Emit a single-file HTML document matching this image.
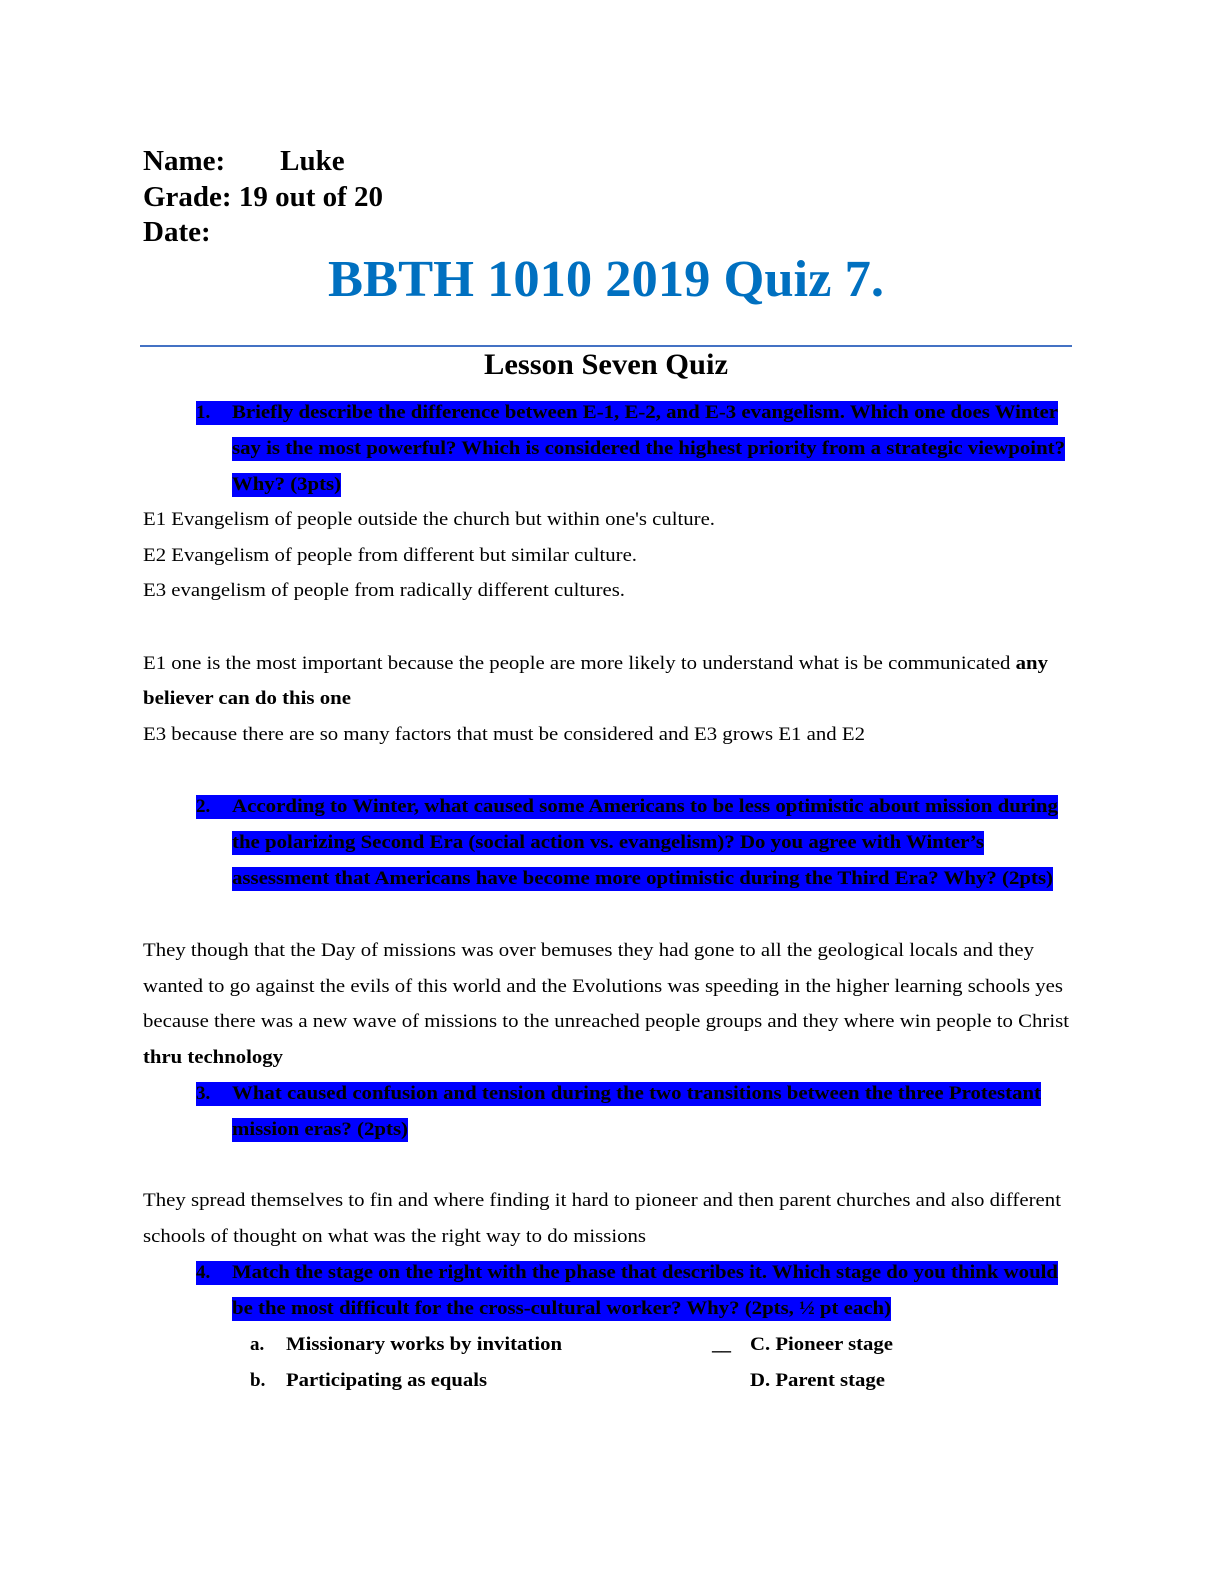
<!DOCTYPE html>
<html><head><meta charset="utf-8"><style>
html,body{margin:0;padding:0;overflow:hidden;width:1224px;height:1584px}
body{background:#fff;position:relative;font-family:"Liberation Serif",serif;color:#000}
.l{position:absolute;white-space:nowrap;line-height:24px;height:24px;font-size:19px}
.f span{display:inline-block;transform-origin:0 50%}
.hl{background:#0000ff}
.b{font-weight:bold}
.h{position:absolute;font-weight:bold;font-size:29px;line-height:36px;white-space:nowrap}
</style></head><body>
<div class="h" style="left:143px;top:143px">Name:<span style="display:inline-block;width:55px"></span>Luke</div>
<div class="h" style="left:143px;top:179px">Grade: 19 out of 20</div>
<div class="h" style="left:143px;top:214px">Date:</div>
<div class="l f b" style="left:328px;top:250px;width:556px;height:60px;line-height:60px;font-size:52px;color:#0070c0"><span>BBTH 1010 2019 Quiz 7.</span></div>
<div style="position:absolute;left:140px;top:345px;width:932px;height:2px;background:#4472c4"></div>
<div class="l f b" style="left:484px;top:347px;width:244px;height:36px;line-height:36px;font-size:30px"><span>Lesson Seven Quiz</span></div>

<div class="l b hl" style="left:196px;top:401px;width:862px"></div>
<div class="l b" style="left:196px;top:401px">1.</div>
<div class="l f b" style="left:232px;top:401px;width:826px"><span>Briefly describe the difference between E-1, E-2, and E-3 evangelism. Which one does Winter</span></div>
<div class="l f b hl" style="left:232px;top:437px;width:833px"><span>say is the most powerful? Which is considered the highest priority from a strategic viewpoint?</span></div>
<div class="l f b hl" style="left:232px;top:473px;width:109px"><span>Why? (3pts)</span></div>

<div class="l f" style="left:143px;top:508px;width:572px"><span>E1 Evangelism of people outside the church but within one's culture.</span></div>
<div class="l f" style="left:143px;top:544px;width:494px"><span>E2 Evangelism of people from different but similar culture.</span></div>
<div class="l f" style="left:143px;top:579px;width:482px"><span>E3 evangelism of people from radically different cultures.</span></div>
<div class="l f" style="left:143px;top:652px;width:905px"><span>E1 one is the most important because the people are more likely to understand what is be communicated <b>any</b></span></div>
<div class="l f b" style="left:143px;top:687px;width:208px"><span>believer can do this one</span></div>
<div class="l f" style="left:143px;top:723px;width:722px"><span>E3 because there are so many factors that must be considered and E3 grows E1 and E2</span></div>

<div class="l b hl" style="left:196px;top:795px;width:862px"></div>
<div class="l b" style="left:196px;top:795px">2.</div>
<div class="l f b" style="left:232px;top:795px;width:826px"><span>According to Winter, what caused some Americans to be less optimistic about mission during</span></div>
<div class="l f b hl" style="left:232px;top:831px;width:752px"><span>the polarizing Second Era (social action vs. evangelism)? Do you agree with Winter’s</span></div>
<div class="l f b hl" style="left:232px;top:867px;width:821px"><span>assessment that Americans have become more optimistic during the Third Era? Why? (2pts)</span></div>

<div class="l f" style="left:143px;top:939px;width:891px"><span>They though that the Day of missions was over bemuses they had gone to all the geological locals and they</span></div>
<div class="l f" style="left:143px;top:975px;width:920px"><span>wanted to go against the evils of this world and the Evolutions was speeding in the higher learning schools yes</span></div>
<div class="l f" style="left:143px;top:1010px;width:926px"><span>because there was a new wave of missions to the unreached people groups and they where win people to Christ</span></div>
<div class="l f b" style="left:143px;top:1046px;width:140px"><span>thru technology</span></div>

<div class="l b hl" style="left:196px;top:1082px;width:845px"></div>
<div class="l b" style="left:196px;top:1082px">3.</div>
<div class="l f b" style="left:232px;top:1082px;width:809px"><span>What caused confusion and tension during the two transitions between the three Protestant</span></div>
<div class="l f b hl" style="left:232px;top:1118px;width:176px"><span>mission eras? (2pts)</span></div>

<div class="l f" style="left:143px;top:1189px;width:918px"><span>They spread themselves to fin and where finding it hard to pioneer and then parent churches and also different</span></div>
<div class="l f" style="left:143px;top:1225px;width:503px"><span>schools of thought on what was the right way to do missions</span></div>

<div class="l b hl" style="left:196px;top:1261px;width:862px"></div>
<div class="l b" style="left:196px;top:1261px">4.</div>
<div class="l f b" style="left:232px;top:1261px;width:826px"><span>Match the stage on the right with the phase that describes it. Which stage do you think would</span></div>
<div class="l f b hl" style="left:232px;top:1297px;width:659px"><span>be the most difficult for the cross-cultural worker? Why? (2pts, ½ pt each)</span></div>

<div class="l b" style="left:250px;top:1333px">a.</div>
<div class="l f b" style="left:286px;top:1333px;width:276px"><span>Missionary works by invitation</span></div>
<div class="l b" style="left:712px;top:1333px">__</div>
<div class="l f b" style="left:750px;top:1333px;width:143px"><span>C. Pioneer stage</span></div>
<div class="l b" style="left:250px;top:1369px">b.</div>
<div class="l f b" style="left:286px;top:1369px;width:201px"><span>Participating as equals</span></div>
<div class="l f b" style="left:750px;top:1369px;width:135px"><span>D. Parent stage</span></div>
<script>
document.querySelectorAll('.f').forEach(function(e){var s=e.firstElementChild;var w=s.getBoundingClientRect().width;var t=parseFloat(e.style.width);if(w&&t)s.style.transform='scaleX('+(t/w)+')';});
</script>
</body></html>
